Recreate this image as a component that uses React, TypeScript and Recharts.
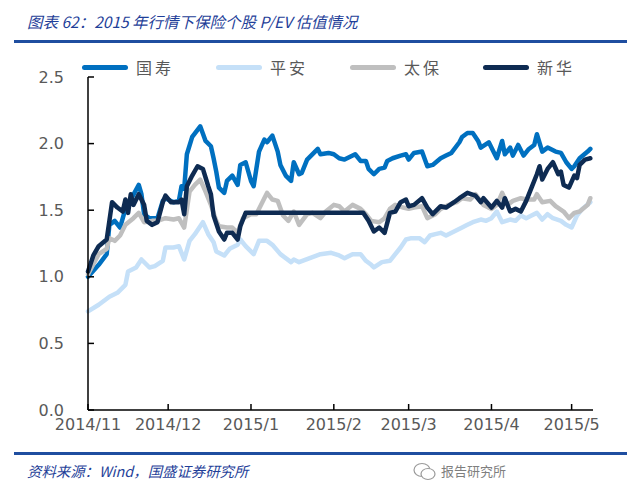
import { LineChart, Line, XAxis, YAxis } from 'recharts'

// days counted from 2014/11/01
const monthTicks = [0, 30, 61, 92, 120, 151, 181]
const monthLabels = ['2014/11', '2014/12', '2015/1', '2015/2', '2015/3', '2015/4', '2015/5']
const yTicks = [0, 0.5, 1, 1.5, 2, 2.5]

// 国寿
const gsDays = [0, 4, 7, 8, 10, 12, 14, 16, 19, 20, 21, 23, 26, 28, 29, 32, 34, 35, 36, 37, 39, 42, 44, 46, 47, 48, 49, 51, 52, 54, 56, 57, 59, 61, 62, 64, 66, 67, 69, 71, 72, 74, 76, 77, 79, 80, 82, 86, 87, 90, 92, 94, 96, 100, 102, 104, 105, 107, 109, 111, 112, 114, 117, 119, 120, 122, 125, 127, 129, 132, 134, 136, 139, 140, 142, 144, 146, 147, 150, 152, 153, 155, 156, 158, 159, 161, 163, 165, 167, 168, 170, 172, 175, 177, 179, 181, 182, 184, 187, 188]
const gsPE = [1.0, 1.09, 1.17, 1.39, 1.42, 1.37, 1.51, 1.58, 1.69, 1.62, 1.47, 1.44, 1.44, 1.57, 1.59, 1.56, 1.57, 1.68, 1.66, 1.92, 2.05, 2.13, 2.02, 1.98, 1.89, 1.79, 1.67, 1.63, 1.72, 1.76, 1.69, 1.84, 1.86, 1.72, 1.68, 1.94, 2.03, 2.01, 2.06, 1.94, 1.84, 1.76, 1.72, 1.86, 1.77, 1.78, 1.88, 1.96, 1.92, 1.93, 1.92, 1.89, 1.88, 1.92, 1.87, 1.87, 1.81, 1.77, 1.81, 1.82, 1.87, 1.89, 1.91, 1.92, 1.88, 1.93, 1.94, 1.83, 1.84, 1.89, 1.91, 1.93, 2.01, 2.05, 2.08, 2.08, 2.02, 1.97, 2.01, 1.93, 1.89, 2.02, 1.92, 1.97, 1.91, 1.99, 1.91, 1.96, 1.99, 2.07, 1.94, 1.97, 1.94, 1.93, 1.86, 1.81, 1.83, 1.89, 1.94, 1.96]

// 平安
const paDays = [0, 4, 8, 11, 14, 15, 18, 20, 23, 25, 28, 29, 32, 34, 36, 38, 40, 43, 45, 46, 47, 48, 51, 53, 56, 57, 59, 62, 64, 67, 69, 72, 76, 77, 79, 83, 87, 91, 94, 96, 99, 102, 104, 106, 107, 110, 113, 115, 117, 119, 121, 124, 126, 128, 130, 132, 134, 137, 140, 142, 144, 147, 149, 151, 153, 155, 158, 160, 162, 164, 166, 168, 170, 172, 174, 177, 179, 181, 183, 185, 188]
const paPE = [0.74, 0.79, 0.85, 0.88, 0.94, 1.04, 1.07, 1.13, 1.07, 1.08, 1.12, 1.22, 1.22, 1.23, 1.13, 1.27, 1.32, 1.41, 1.32, 1.29, 1.26, 1.19, 1.16, 1.21, 1.24, 1.28, 1.23, 1.17, 1.27, 1.27, 1.24, 1.17, 1.11, 1.13, 1.11, 1.14, 1.17, 1.18, 1.16, 1.14, 1.17, 1.17, 1.12, 1.09, 1.07, 1.11, 1.12, 1.17, 1.22, 1.28, 1.29, 1.29, 1.26, 1.31, 1.32, 1.33, 1.31, 1.34, 1.37, 1.39, 1.41, 1.43, 1.42, 1.44, 1.49, 1.41, 1.43, 1.42, 1.46, 1.44, 1.46, 1.48, 1.43, 1.47, 1.44, 1.42, 1.39, 1.37, 1.46, 1.51, 1.56]

// 太保
const tbDays = [0, 4, 7, 8, 10, 12, 14, 17, 19, 21, 24, 26, 29, 32, 34, 36, 38, 40, 42, 44, 46, 48, 49, 52, 54, 56, 58, 61, 63, 66, 67, 69, 71, 73, 75, 77, 79, 82, 84, 87, 89, 92, 94, 96, 99, 102, 104, 106, 109, 111, 113, 115, 118, 120, 122, 125, 127, 130, 132, 135, 138, 140, 143, 145, 148, 151, 153, 155, 157, 159, 162, 164, 167, 168, 170, 173, 175, 178, 180, 182, 184, 187, 188]
const tbPE = [1.02, 1.17, 1.21, 1.29, 1.27, 1.31, 1.39, 1.44, 1.48, 1.41, 1.42, 1.42, 1.44, 1.43, 1.44, 1.37, 1.64, 1.69, 1.73, 1.64, 1.54, 1.42, 1.38, 1.37, 1.37, 1.33, 1.44, 1.47, 1.47, 1.59, 1.63, 1.58, 1.57, 1.46, 1.42, 1.49, 1.39, 1.47, 1.48, 1.44, 1.49, 1.54, 1.53, 1.49, 1.54, 1.51, 1.47, 1.42, 1.41, 1.44, 1.51, 1.54, 1.52, 1.51, 1.52, 1.53, 1.44, 1.47, 1.51, 1.54, 1.56, 1.59, 1.58, 1.62, 1.54, 1.51, 1.54, 1.63, 1.54, 1.57, 1.59, 1.58, 1.58, 1.62, 1.56, 1.57, 1.53, 1.49, 1.44, 1.48, 1.49, 1.54, 1.59]

// 新华
const xhDays = [0, 2, 4, 7, 9, 11, 13, 14, 15, 16, 17, 19, 21, 22, 24, 26, 28, 29, 31, 34, 35, 36, 37, 39, 41, 43, 45, 46, 47, 48, 49, 51, 52, 54, 56, 57, 59, 103, 105, 107, 109, 111, 113, 115, 117, 119, 120, 122, 125, 127, 129, 132, 134, 137, 139, 142, 145, 147, 148, 151, 153, 155, 156, 158, 160, 162, 164, 166, 168, 169, 170, 172, 174, 176, 177, 178, 180, 182, 183, 184, 186, 188]
const xhPE = [1.04, 1.16, 1.23, 1.28, 1.56, 1.52, 1.49, 1.58, 1.48, 1.62, 1.54, 1.62, 1.54, 1.42, 1.39, 1.41, 1.56, 1.61, 1.56, 1.56, 1.58, 1.47, 1.68, 1.76, 1.83, 1.81, 1.68, 1.62, 1.46, 1.4, 1.34, 1.28, 1.33, 1.33, 1.28, 1.38, 1.48, 1.48, 1.42, 1.34, 1.37, 1.33, 1.48, 1.49, 1.56, 1.58, 1.53, 1.54, 1.59, 1.52, 1.47, 1.53, 1.52, 1.56, 1.59, 1.63, 1.61, 1.56, 1.59, 1.52, 1.57, 1.52, 1.59, 1.49, 1.51, 1.49, 1.57, 1.67, 1.77, 1.83, 1.73, 1.81, 1.86, 1.77, 1.79, 1.69, 1.67, 1.76, 1.74, 1.84, 1.88, 1.89]

const toRows = (days: number[], vals: number[]) => days.map((d, i) => ({ d, v: vals[i] }))

const series = [
  { name: '国寿', color: '#0070C0', data: toRows(gsDays, gsPE) },
  { name: '平安', color: '#C5E0F8', data: toRows(paDays, paPE) },
  { name: '太保', color: '#BFBFBF', data: toRows(tbDays, tbPE) },
  { name: '新华', color: '#0E2B52', data: toRows(xhDays, xhPE) },
]

const axisFont = 'Verdana, "DejaVu Sans", sans-serif'
const cjk = '"Noto Sans CJK SC", sans-serif'
const legendX = [82, 216, 350, 483]

export default function App() {
  return (
    <div style={{ position: 'absolute', left: 0, top: 0, width: 640, height: 492, background: '#fff', overflow: 'hidden' }}>
      <div style={{ position: 'absolute', left: 27, top: 10, fontSize: 15.5, fontStyle: 'italic', color: '#1F3F99', fontFamily: cjk, whiteSpace: 'nowrap' }}>
        图表 62：2015 年行情下保险个股 P/EV 估值情况
      </div>
      <div style={{ position: 'absolute', left: 14, top: 40, width: 613, height: 3, background: '#1F4EA0' }} />

      {series.map((s, i) => (
        <div key={s.name} style={{ position: 'absolute', left: legendX[i], top: 57, height: 20, display: 'flex', alignItems: 'center' }}>
          <div style={{ width: 46, height: 5, borderRadius: 3, background: s.color }} />
          <span style={{ marginLeft: 8, fontSize: 16, color: '#595959', fontFamily: cjk, letterSpacing: 3 }}>{s.name}</span>
        </div>
      ))}

      <LineChart width={640} height={492} margin={{ top: 77, right: 47, bottom: 42, left: 0 }} style={{ position: 'absolute', left: 0, top: 0 }}>
        <XAxis
          dataKey="d"
          type="number"
          domain={[0, 189]}
          ticks={monthTicks}
          tickFormatter={(v: number) => monthLabels[monthTicks.indexOf(v)]}
          height={40}
          tickSize={-6}
          tickMargin={15}
          stroke="#000"
          strokeWidth={1.5}
          tick={{ fill: '#595959', fontSize: 16, fontFamily: axisFont }}
          interval={0}
        />
        <YAxis
          type="number"
          domain={[0, 2.5]}
          ticks={yTicks}
          tickFormatter={(v: number) => v.toFixed(1)}
          width={88}
          tickSize={-6}
          tickMargin={30}
          stroke="#000"
          strokeWidth={1.5}
          tick={{ fill: '#595959', fontSize: 16, fontFamily: axisFont }}
          interval={0}
        />
        {series.map((s) => (
          <Line
            key={s.name}
            data={s.data}
            dataKey="v"
            name={s.name}
            type="linear"
            stroke={s.color}
            strokeWidth={4.5}
            strokeLinejoin="round"
            strokeLinecap="round"
            dot={false}
            isAnimationActive={false}
          />
        ))}
      </LineChart>

      <div style={{ position: 'absolute', left: 14, top: 452, width: 613, height: 3, background: '#1F4EA0' }} />
      <div style={{ position: 'absolute', left: 27, top: 460, fontSize: 14.4, fontStyle: 'italic', color: '#1F3F99', fontFamily: cjk, whiteSpace: 'nowrap' }}>
        资料来源：Wind，国盛证券研究所
      </div>
      <svg width={24} height={20} style={{ position: 'absolute', left: 413, top: 462 }}>
        <ellipse cx={9} cy={8} rx={8} ry={6.5} fill="none" stroke="#9a9a9a" strokeWidth={1.2} />
        <ellipse cx={15} cy={12} rx={7} ry={5.5} fill="#fff" stroke="#9a9a9a" strokeWidth={1.2} />
      </svg>
      <div style={{ position: 'absolute', left: 441, top: 461, fontSize: 13, color: '#7f7f7f', fontFamily: cjk, whiteSpace: 'nowrap' }}>
        报告研究所
      </div>
    </div>
  )
}
